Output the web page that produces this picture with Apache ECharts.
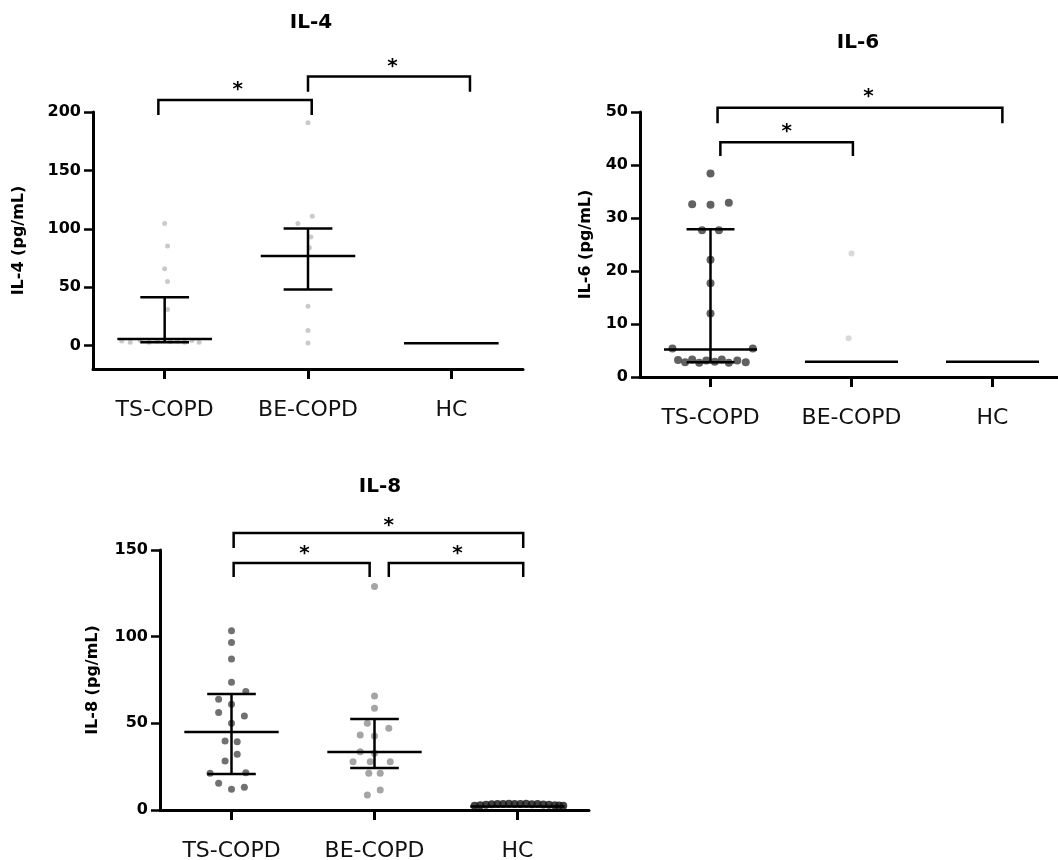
<!DOCTYPE html>
<html>
<head>
<meta charset="utf-8">
<script src="https://cdn.jsdelivr.net/npm/echarts@6/dist/echarts.min.js"></script>
<style>
html,body{margin:0;padding:0;background:#fff;}
#chart{width:1058px;height:860px;}
</style>
</head>
<body>
<div id="chart"></div>
<script>
// ---------- shared ----------
const categories = ['TS-COPD', 'BE-COPD', 'HC'];
const panelTitles = ['IL-4', 'IL-6', 'IL-8'];
const yAxisNames = ['IL-4 (pg/mL)', 'IL-6 (pg/mL)', 'IL-8 (pg/mL)'];
const il4Ticks = [0, 50, 100, 150, 200];
const il6Ticks = [0, 10, 20, 30, 40, 50];
const il8Ticks = [0, 50, 100, 150];

// ---------- IL-4 (values in pg/mL; jitter = horizontal spread in category units) ----------
const il4TSValues = [104.5, 85.3, 65.8, 54.9, 30.9, 4, 3, 4.5, 3, 4, 3.5, 4, 3, 4.5, 3];
const il4TSJitter = [0, 0.02, 0, 0.02, 0.02, -0.3, -0.24, -0.17, -0.11, -0.05, 0.04, 0.09, 0.14, 0.19, 0.24];
const il4BEValues = [190.8, 110.7, 104.5, 93, 83.9, 33.7, 12.9, 2.3];
const il4BEJitter = [0, 0.03, -0.07, 0.02, 0.01, 0, 0, 0];
// [q1, median, q3]
const il4Stats = [[3, 5.7, 41.5], [48.1, 76.7, 100.2], [2, 2, 2]];
// [left category, right category, top value, drop value]
const il4Brackets = [[-0.044, 1.026, 210.3, 197.4], [1.0, 2.13, 230.3, 217.4]];
const il4Stars = [[0.51, 222.3], [1.59, 242.3]];

// ---------- IL-6 ----------
const il6TSValues = [38.4, 32.6, 32.5, 32.9, 27.7, 27.7, 22.1, 17.7, 12, 5.4, 5.4,
                     3.2, 2.8, 3.3, 2.7, 3.1, 2.9, 3.3, 2.7, 3.1, 2.8];
const il6TSJitter = [0, -0.13, 0, 0.13, -0.06, 0.06, 0, 0, 0, -0.27, 0.3,
                     -0.23, -0.18, -0.13, -0.08, -0.03, 0.03, 0.08, 0.13, 0.19, 0.25];
const il6BEValues = [23.3, 7.3];
const il6BEJitter = [0, -0.02];
const il6Stats = [[2.8, 5.2, 27.9], [2.9, 2.9, 2.9], [2.9, 2.9, 2.9]];
const il6Brackets = [[0.05, 2.07, 50.8, 47.9], [0.07, 1.01, 44.3, 41.7]];
const il6Stars = [[1.12, 53.6], [0.54, 47.0]];

// ---------- IL-8 ----------
const il8TSValues = [103.4, 96.7, 87.1, 73.7, 68.3, 63.9, 61, 56.2, 54.2, 50, 39.8, 39.4,
                     32.1, 28.3, 21.5, 21.2, 15.4, 11.9, 13.1];
const il8TSJitter = [0, 0, 0, 0, 0.1, -0.09, 0, -0.09, 0.09, 0, -0.045, 0.04,
                     0.04, -0.045, 0.1, -0.15, -0.09, 0, 0.09];
const il8BEValues = [128.9, 65.8, 58.7, 50, 47.1, 43.3, 42.7, 33.6, 32.7, 27.9, 27.9, 27.9, 21.2, 21.2, 11.5, 8.7];
const il8BEJitter = [0, 0, 0, -0.05, 0.1, -0.1, 0, -0.1, 0, -0.15, -0.03, 0.11, -0.04, 0.04, 0.04, -0.05];
const il8HCValues = [2.4, 2.8, 3, 3.3, 3.5, 3.4, 3.6, 3.5, 3.4, 3.6, 3.3, 3.5, 3.2, 3, 2.8, 2.6, 2.4];
const il8HCJitter = [-0.3, -0.26, -0.22, -0.18, -0.14, -0.1, -0.06, -0.02, 0.02, 0.06, 0.1, 0.14, 0.18, 0.22, 0.26, 0.29, 0.32];
const il8Stats = [[20.8, 45, 66.9], [24.2, 33.5, 52.5], [2, 2, 2]];
const il8Brackets = [[0.015, 2.04, 159.8, 151.2], [0.015, 0.966, 142.5, 134.4], [1.10, 2.04, 142.5, 134.4]];
const il8Stars = [[1.10, 166.2], [0.51, 150], [1.58, 150]];

// ---------- styling ----------
const FONT = 'DejaVu Sans';
const MEDIAN_HALF = 0.33;
const CAP_HALF = 0.17;

function grid(left, top, width, height) {
  return { left, top, width, height, outerBoundsMode: 'none', containLabel: false };
}

function catAxis(gi) {
  return {
    type: 'category', gridIndex: gi, data: categories, boundaryGap: true,
    axisLine: { show: true, onZero: false, lineStyle: { color: '#000', width: 3 } },
    axisTick: { show: true, alignWithLabel: true, length: 10, lineStyle: { color: '#000', width: 3 } },
    axisLabel: { fontFamily: FONT, fontSize: 22, color: '#111', margin: 30 },
    splitLine: { show: false }
  };
}
function hiddenValueX(gi) {
  return { type: 'value', gridIndex: gi, min: -0.5, max: 2.5, show: false, splitLine: { show: false } };
}
function valAxis(gi, min, max, ticks, name, nameGap) {
  return {
    type: 'value', gridIndex: gi, min, max, name, nameLocation: 'middle', nameGap,
    nameTextStyle: { fontFamily: FONT, fontWeight: 'bold', fontSize: 16, color: '#000' },
    axisLine: { show: true, onZero: false, lineStyle: { color: '#000', width: 3 } },
    axisTick: { show: true, length: 9, customValues: ticks, lineStyle: { color: '#000', width: 2.5 } },
    axisLabel: { customValues: ticks, fontFamily: FONT, fontWeight: 'bold', fontSize: 16, color: '#000', margin: 12 },
    splitLine: { show: false }
  };
}

function points(gi, cat, values, jitter, color, size) {
  return {
    type: 'scatter', xAxisIndex: gi * 2 + 1, yAxisIndex: gi, silent: true, z: 2, clip: false,
    symbol: 'circle', symbolSize: size, itemStyle: { color: color },
    data: values.map((v, i) => [cat + jitter[i], v])
  };
}

function stats(gi, st) {
  return {
    type: 'custom', xAxisIndex: gi * 2 + 1, yAxisIndex: gi, silent: true, z: 5, clip: false,
    data: st.map((s, i) => [i, s[0], s[1], s[2]]),
    encode: { x: 0, y: [1, 2, 3] },
    renderItem: function (params, api) {
      const c = api.value(0), q1 = api.value(1), md = api.value(2), q3 = api.value(3);
      const style = { stroke: '#000', lineWidth: 2.5, fill: null };
      const ch = [];
      const mL = api.coord([c - MEDIAN_HALF, md]), mR = api.coord([c + MEDIAN_HALF, md]);
      ch.push({ type: 'line', shape: { x1: mL[0], y1: mL[1], x2: mR[0], y2: mR[1] }, style: style });
      if (q3 > q1) {
        const a = api.coord([c, q1]), b = api.coord([c, q3]);
        ch.push({ type: 'line', shape: { x1: a[0], y1: a[1], x2: b[0], y2: b[1] }, style: style });
        [q1, q3].forEach(function (q) {
          const l = api.coord([c - CAP_HALF, q]), r = api.coord([c + CAP_HALF, q]);
          ch.push({ type: 'line', shape: { x1: l[0], y1: l[1], x2: r[0], y2: r[1] }, style: style });
        });
      }
      return { type: 'group', children: ch };
    }
  };
}

function brackets(gi, br) {
  return {
    type: 'custom', xAxisIndex: gi * 2 + 1, yAxisIndex: gi, silent: true, z: 6, clip: false,
    data: br,
    encode: { x: [0, 1], y: [2, 3] },
    renderItem: function (params, api) {
      const x1 = api.value(0), x2 = api.value(1), top = api.value(2), drop = api.value(3);
      const p = [api.coord([x1, drop]), api.coord([x1, top]), api.coord([x2, top]), api.coord([x2, drop])];
      return { type: 'polyline', shape: { points: p }, style: { stroke: '#000', lineWidth: 2.5, fill: null } };
    }
  };
}

function stars(gi, st) {
  return {
    type: 'custom', xAxisIndex: gi * 2 + 1, yAxisIndex: gi, silent: true, z: 6, clip: false,
    data: st,
    encode: { x: 0, y: 1 },
    renderItem: function (params, api) {
      const p = api.coord([api.value(0), api.value(1)]);
      return {
        type: 'text', x: p[0], y: p[1] + 4,
        style: { text: '*', fill: '#000', fontFamily: FONT, fontWeight: 'bold', fontSize: 20,
                 align: 'center', verticalAlign: 'middle' }
      };
    }
  };
}

function title(text, x, top) {
  return { text, left: x, top, textAlign: 'center',
           textStyle: { fontFamily: FONT, fontWeight: 'bold', fontSize: 20, color: '#000' } };
}

const LIGHT = '#bdbdbd';
const option = {
  backgroundColor: '#ffffff',
  animation: false,
  title: [title(panelTitles[0], 306, 8), title(panelTitles[1], 853, 28), title(panelTitles[2], 375, 472)],
  grid: [grid(93, 112, 430, 257), grid(640, 112, 423, 265), grid(160, 550, 429, 260)],
  xAxis: [catAxis(0), hiddenValueX(0), catAxis(1), hiddenValueX(1), catAxis(2), hiddenValueX(2)],
  yAxis: [
    valAxis(0, -20, 200, il4Ticks, yAxisNames[0], 66),
    valAxis(1, 0, 50, il6Ticks, yAxisNames[1], 46),
    valAxis(2, 0, 150, il8Ticks, yAxisNames[2], 59)
  ],
  series: [
    points(0, 0, il4TSValues, il4TSJitter, LIGHT, 5),
    points(0, 1, il4BEValues, il4BEJitter, LIGHT, 5),
    stats(0, il4Stats), brackets(0, il4Brackets), stars(0, il4Stars),

    points(1, 0, il6TSValues, il6TSJitter, '#3a3a3a', 8),
    points(1, 1, il6BEValues, il6BEJitter, '#d0d0d0', 6),
    stats(1, il6Stats), brackets(1, il6Brackets), stars(1, il6Stars),

    points(2, 0, il8TSValues, il8TSJitter, '#4d4d4d', 7),
    points(2, 1, il8BEValues, il8BEJitter, '#8e8e8e', 7),
    points(2, 2, il8HCValues, il8HCJitter, '#111111', 8),
    stats(2, il8Stats), brackets(2, il8Brackets), stars(2, il8Stars)
  ]
};

const chart = echarts.init(document.getElementById('chart'), null, { renderer: 'canvas' });
chart.setOption(option);
</script>
</body>
</html>
